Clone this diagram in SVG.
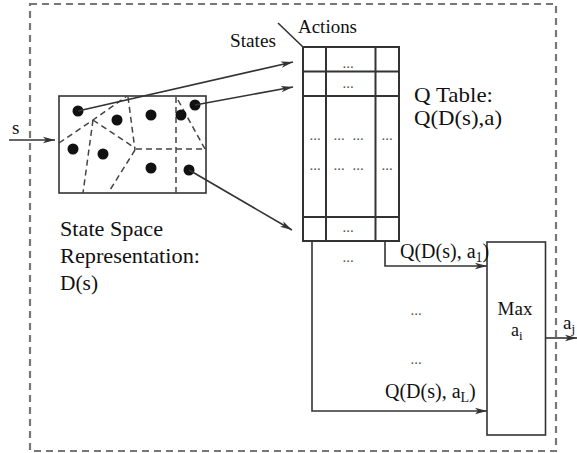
<svg xmlns="http://www.w3.org/2000/svg" width="577" height="453" viewBox="0 0 577 453">
  <style>
    .t { font-family: "Liberation Serif", "Times New Roman", serif; fill: #111; }
    .ln { fill: none; stroke: #333; stroke-width: 1.6; }
    .tb { fill: none; stroke: #333; stroke-width: 2; }
    .dash { fill: none; stroke: #444; stroke-width: 1.5; stroke-dasharray: 6 4; }
    .border { fill: none; stroke: #777; stroke-width: 2.2; stroke-dasharray: 7 5; }
    .dot { fill: #111; }
    .ell { font-family: "Liberation Serif", "Times New Roman", serif; font-size: 15px; fill: #555; text-anchor: middle; }
  </style>
  <defs>
    <marker id="ah" viewBox="0 0 12 8" refX="12" refY="4" markerWidth="12" markerHeight="8" orient="auto" markerUnits="userSpaceOnUse">
      <path d="M0,0.8 L12,4 L0,7.2 L3,4 z" fill="#333"/>
    </marker>
  </defs>
  <rect width="577" height="453" fill="#fff"/>

  <g id="frame">
    <rect class="border" x="30" y="4" width="526" height="447"/>
  </g>

  <g id="state-space">
    <rect class="ln" x="59" y="96" width="147" height="97" stroke-width="1.8"/>
    <polyline class="dash" points="59,143 93,120 127,96"/>
    <line class="dash" x1="93" y1="120" x2="83" y2="193"/>
    <line class="dash" x1="93" y1="120" x2="135" y2="148"/>
    <line class="dash" x1="128" y1="97" x2="135" y2="150"/>
    <line class="dash" x1="135" y1="150" x2="110" y2="190"/>
    <line class="dash" x1="136" y1="149" x2="206" y2="149"/>
    <line class="dash" x1="176" y1="97" x2="176" y2="193"/>
    <line class="dash" x1="178" y1="100" x2="205" y2="149"/>
    <circle class="dot" cx="78" cy="111" r="5.5"/>
    <circle class="dot" cx="117" cy="120" r="5.5"/>
    <circle class="dot" cx="151" cy="115" r="5.5"/>
    <circle class="dot" cx="181" cy="115" r="5.5"/>
    <circle class="dot" cx="195" cy="105" r="5.5"/>
    <circle class="dot" cx="73" cy="149" r="5.5"/>
    <circle class="dot" cx="103" cy="154" r="5.5"/>
    <circle class="dot" cx="151" cy="168" r="5.5"/>
    <circle class="dot" cx="189" cy="170" r="5.5"/>
    <text class="t" x="60" y="236" font-size="21" textLength="103" lengthAdjust="spacingAndGlyphs">State Space</text>
    <text class="t" x="60" y="263" font-size="21" textLength="140" lengthAdjust="spacingAndGlyphs">Representation:</text>
    <text class="t" x="60" y="290" font-size="21" textLength="38" lengthAdjust="spacingAndGlyphs">D(s)</text>
  </g>

  <g id="q-table">
    <rect class="tb" x="303" y="47" width="96" height="194"/>
    <line class="tb" x1="326" y1="47" x2="326" y2="241"/>
    <line class="tb" x1="375.5" y1="47" x2="375.5" y2="241"/>
    <line class="tb" x1="303" y1="71.5" x2="399" y2="71.5"/>
    <line class="tb" x1="303" y1="96" x2="399" y2="96"/>
    <line class="tb" x1="303" y1="217" x2="399" y2="217"/>
    <line class="ln" x1="278" y1="23" x2="303" y2="47"/>
    <text class="ell" x="348" y="68">...</text>
    <text class="ell" x="348" y="88">...</text>
    <text class="ell" x="315" y="140">...</text>
    <text class="ell" x="339" y="140">...</text>
    <text class="ell" x="358" y="140">...</text>
    <text class="ell" x="387" y="140">...</text>
    <text class="ell" x="315" y="170">...</text>
    <text class="ell" x="339" y="170">...</text>
    <text class="ell" x="358" y="170">...</text>
    <text class="ell" x="387" y="170">...</text>
    <text class="ell" x="348" y="232">...</text>
    <text class="t" x="230" y="47" font-size="19" textLength="46" lengthAdjust="spacingAndGlyphs">States</text>
    <text class="t" x="298" y="33" font-size="19" textLength="59" lengthAdjust="spacingAndGlyphs">Actions</text>
    <text class="t" x="414" y="102" font-size="22" textLength="79" lengthAdjust="spacingAndGlyphs">Q Table:</text>
    <text class="t" x="414" y="125" font-size="22" textLength="88" lengthAdjust="spacingAndGlyphs">Q(D(s),a)</text>
  </g>

  <g id="max">
    <rect class="ln" x="487" y="242" width="58.5" height="193" stroke-width="1.8"/>
    <text class="t" x="515" y="315" font-size="19" text-anchor="middle">Max</text>
    <text class="t" x="511" y="336" font-size="18">a<tspan font-size="13" dy="4">i</tspan></text>
  </g>

  <g id="connectors">
    <line class="ln" x1="9" y1="140" x2="55" y2="140" marker-end="url(#ah)"/>
    <line class="ln" x1="78" y1="111" x2="293" y2="62" marker-end="url(#ah)"/>
    <line class="ln" x1="195" y1="105" x2="293" y2="87" marker-end="url(#ah)"/>
    <line class="ln" x1="189" y1="170" x2="292" y2="230" marker-end="url(#ah)"/>
    <polyline class="ln" points="385,241 385,266 487,266" marker-end="url(#ah)"/>
    <polyline class="ln" points="312,241 312,411 487,411" marker-end="url(#ah)"/>
    <line class="ln" x1="545.5" y1="338" x2="577" y2="338" marker-end="url(#ah)"/>
  </g>

  <g id="labels">
    <text class="t" x="12" y="134" font-size="19">s</text>
    <text class="ell" x="348" y="262">...</text>
    <text class="ell" x="416" y="315">...</text>
    <text class="ell" x="416" y="364">...</text>
    <text class="t" x="400" y="258" font-size="20">Q(D(s), a<tspan font-size="14" dy="4">1</tspan><tspan dy="-4">)</tspan></text>
    <text class="t" x="385" y="398" font-size="20">Q(D(s), a<tspan font-size="14" dy="4">L</tspan><tspan dy="-4">)</tspan></text>
    <text class="t" x="563" y="329" font-size="19">a<tspan font-size="13" dy="4">j</tspan></text>
  </g>
</svg>
